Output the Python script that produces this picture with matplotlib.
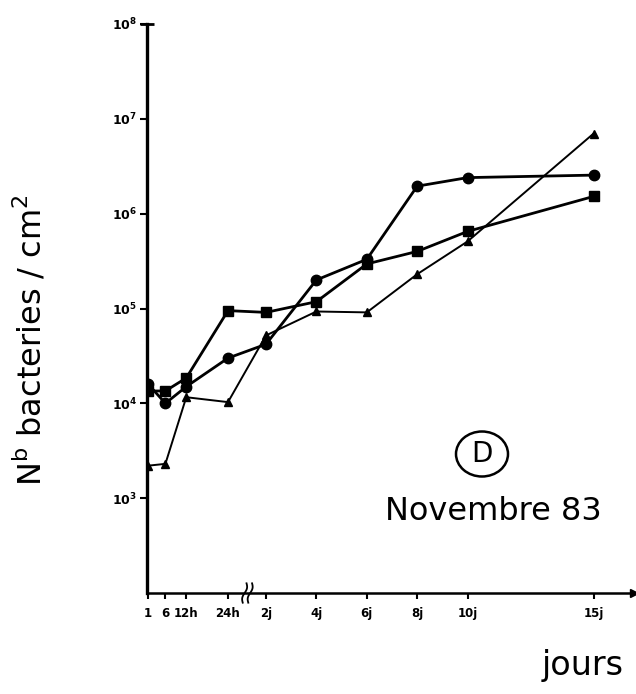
import numpy as np
import matplotlib
matplotlib.use("Agg")
from matplotlib import pyplot as plt
from matplotlib.patches import Ellipse
from matplotlib.ticker import FixedLocator, FixedFormatter, NullLocator

plt.rcParams['font.family'] = ['DejaVu Sans']
plt.rcParams['mathtext.default'] = 'regular'

# temps de prelevement en heures (1h .. 15 jours)
hours = [1, 6, 12, 24, 48, 96, 144, 192, 240, 360]
tick_labels = ['1', '6', '12h', '24h', '2j', '4j', '6j', '8j', '10j', '15j']

# nombre de bacteries / cm2 pour les trois series
circles = [1.6e4, 1.0e4, 1.5e4, 3.0e4, 4.2e4, 2.0e5, 3.3e5, 1.95e6, 2.4e6, 2.55e6]
squares = [1.35e4, 1.35e4, 1.85e4, 9.5e4, 9.1e4, 1.18e5, 2.95e5, 4.0e5, 6.5e5, 1.52e6]
triangles = [2.2e3, 2.3e3, 1.16e4, 1.03e4, 5.2e4, 9.3e4, 9.1e4, 2.3e5, 5.1e5, 7.0e6]

y_ticks = [1e3, 1e4, 1e5, 1e6, 1e7, 1e8]

# axe des temps coupe : heures etirees jusqu'a 24h, puis jours
knots_h = np.array([-100.0, 1.0, 24.0, 48.0, 360.0, 1000.0])
knots_p = np.array([-101 * 80 / 23, 0.0, 80.0, 118.0, 445.6, 445.6 + 640 * 25.2 / 24])


def fwd(h):
    return np.interp(h, knots_h, knots_p)


def inv(p):
    return np.interp(p, knots_p, knots_h)


fig = plt.figure(figsize=(6.36, 6.94), dpi=100)
ax = fig.add_axes([147 / 636, 1 - 593 / 694, (634 - 147) / 636, (593 - 24) / 694])
ax.set_xscale('function', functions=(fwd, inv))
ax.set_yscale('log')
ax.set_xlim(inv(-1.0), inv(486.0))
ax.set_ylim(1e2, 1e8)

ax.plot(hours, circles, color='black', lw=2.0, marker='o', ms=7.5, zorder=3)
ax.plot(hours, squares, color='black', lw=2.0, marker='s', ms=6.5, zorder=3)
ax.plot(hours, triangles, color='black', lw=1.4, marker='^', ms=6, zorder=3)

for side in ['top', 'right']:
    ax.spines[side].set_visible(False)
ax.spines['left'].set_linewidth(2.4)
ax.spines['bottom'].set_linewidth(1.8)

ax.xaxis.set_major_locator(FixedLocator(hours))
ax.xaxis.set_major_formatter(FixedFormatter(tick_labels))
ax.xaxis.set_minor_locator(NullLocator())
ax.yaxis.set_major_locator(FixedLocator(y_ticks))
ax.yaxis.set_major_formatter(FixedFormatter([r'$\mathbf{10^{%d}}$' % int(np.log10(v)) for v in y_ticks]))
ax.yaxis.set_minor_locator(NullLocator())
ax.tick_params(axis='x', length=4, width=1.5, pad=6, labelsize=8.5)
ax.tick_params(axis='y', length=5, width=1.5, pad=2, labelsize=9)
for lbl in ax.get_xticklabels():
    lbl.set_fontweight('bold')

# barre en haut de l'axe y et fleche au bout de l'axe x
ax.plot([ax.get_xlim()[0]], [1e8], marker='_', ms=10, mew=2, color='black', clip_on=False)
ax.plot([ax.get_xlim()[1]], [1e2], marker='>', ms=6, color='black', clip_on=False)

# coupure de l'axe entre 24h et 2j
t = np.linspace(-1, 1, 30)
for xb in [34.5, 38.0]:
    ax.plot(xb + 0.9 * np.sin(np.pi * t) + 1.2 * t, 0.017 * t, color='black', lw=1.3,
            transform=ax.get_xaxis_transform(), clip_on=False)

fig.text(30 / 636, 1 - 340 / 694, 'N$^{b}$ bacteries / cm$^{2}$', rotation=90,
         ha='center', va='center', fontsize=23)
fig.text(583 / 636, 1 - 665 / 694, 'jours', ha='center', va='center', fontsize=24)
fig.text(493 / 636, 1 - 512 / 694, 'Novembre 83', ha='center', va='center', fontsize=23)
fig.text(482 / 636, 1 - 454 / 694, 'D', ha='center', va='center', fontsize=20)
fig.patches.append(Ellipse((482 / 636, 1 - 454 / 694), 52 / 636, 45 / 694, fill=False,
                           lw=1.8, color='black', transform=fig.transFigure))

fig.savefig('out.png', dpi=100)
